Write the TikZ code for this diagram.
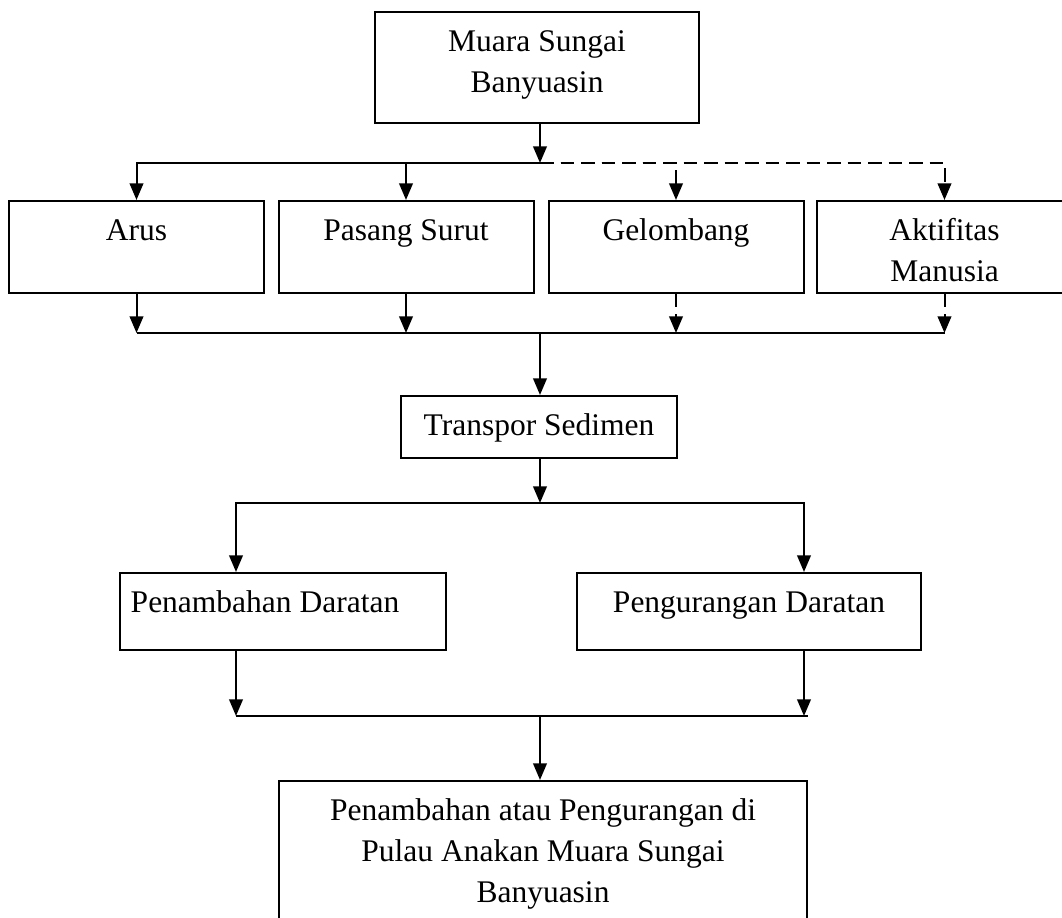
\documentclass[tikz,border=0pt]{standalone}
\usepackage{fontspec}
\setmainfont{Liberation Serif}
\usepackage{tikz}
\usetikzlibrary{arrows.meta}
\usetikzlibrary{positioning}
\usetikzlibrary{calc}
\def\px{0.4pt}
\def\lebarB{255}
\def\tinggiB{92}

\tikzset{
    kotak/.style 2 args={draw, line width=0.8pt, inner sep=0pt,
        minimum width=#1*\px, minimum height=#2*\px},
    teks/.style={inner sep=0pt, align=center, anchor=north,
        font=\fontsize{12.6}{16.4}\selectfont},
    garis/.style={line width=0.8pt},
    panah/.style={garis, -{Triangle[width=5.4pt,length=6.6pt]}},
    putus/.style={dash pattern=on 5.4pt off 2.8pt}
}

\begin{document}
\begin{tikzpicture}[x=\px, y=-\px]
        \useasboundingbox (0,0) rectangle (1062,918);
        \clip (0,0) rectangle (1062,918);

        % kotak
        \node[kotak={324}{111}] (muara) at (537,67.5) {};
        \node[kotak={\lebarB}{\tinggiB}] (arus) at (136.5,247) {};
        \node[kotak={\lebarB}{\tinggiB}] (pasang) at (406,247) {};
        \node[kotak={\lebarB}{\tinggiB}] (gelombang) at (676,247) {};
        \node[kotak={\lebarB}{\tinggiB}] (aktifitas) at (944.5,247) {};
        \node[kotak={276}{62}] (transpor) at (539,427) {};
        \node[kotak={326}{77}] (tambah) at (283,611.5) {};
        \node[kotak={344}{77}] (kurang) at (749,611.5) {};
        \node[kotak={528}{149}] (hasil) at (543,855.5) {};

        % teks di dalam kotak
        \node[teks] (muara-t) at ($(muara.north)+(0,11)$) {\strut Muara Sungai\\Banyuasin};
        \node[teks] (arus-t) at ($(arus.north)+(0,11)$) {\strut Arus};
        \node[teks] (pasang-t) at ($(pasang.north)+(0,11)$) {\strut Pasang Surut};
        \node[teks] (gelombang-t) at ($(gelombang.north)+(0,11)$) {\strut Gelombang};
        \node[teks] (aktifitas-t) at ($(aktifitas.north)+(0,11)$) {\strut Aktifitas\\Manusia};
        \node[teks] (transpor-t) at ($(transpor.north)+(0,11)$) {\strut Transpor Sedimen};
        \node[teks] (tambah-t) at ($(tambah.north)+(-18,11)$) {\strut Penambahan Daratan};
        \node[teks] (kurang-t) at ($(kurang.north)+(0,11)$) {\strut Pengurangan Daratan};
        \node[teks] (hasil-t) at ($(hasil.north)+(0,11)$)
            {\strut Penambahan atau Pengurangan di\\Pulau Anakan Muara Sungai\\Banyuasin};

        \coordinate (pisah1) at (540,163);
        \coordinate (temu1) at (540,333);
        \coordinate (pisah2) at (540,503);
        \coordinate (temu2) at (540,716);
        \coordinate (kiri) at (236,0);
        \coordinate (kanan) at (804,0);

        \draw[panah] (muara.south -| pisah1) -- (pisah1);
        \draw[panah] (pisah1) -| (arus.north);
        \draw[panah] (pisah1) -| (pasang.north);
        \draw[panah,putus] (pisah1) -| (gelombang.north);
        \draw[panah,putus] (pisah1) -| (aktifitas.north);

        \foreach \k in {arus,pasang}
            \draw[panah] (\k.south) -- (\k.south |- temu1);
        \foreach \k in {gelombang,aktifitas}
            \draw[panah,putus] (\k.south) -- (\k.south |- temu1);
        \draw[garis] (arus.south |- temu1) -- (aktifitas.south |- temu1);
        \draw[panah] (temu1) -- (transpor.north -| temu1);

        \draw[panah] (transpor.south -| pisah2) -- (pisah2);
        \draw[panah] (pisah2) -| (tambah.north -| kiri);
        \draw[panah] (pisah2) -| (kurang.north -| kanan);

        \draw[panah] (tambah.south -| kiri) -- (temu2 -| kiri);
        \draw[panah] (kurang.south -| kanan) -- (temu2 -| kanan);
        \draw[garis] (temu2 -| kiri) -- ($(temu2 -| kanan)+(4,0)$);
        \draw[panah] (temu2) -- (hasil.north -| temu2);
    \end{tikzpicture}
\end{document}
